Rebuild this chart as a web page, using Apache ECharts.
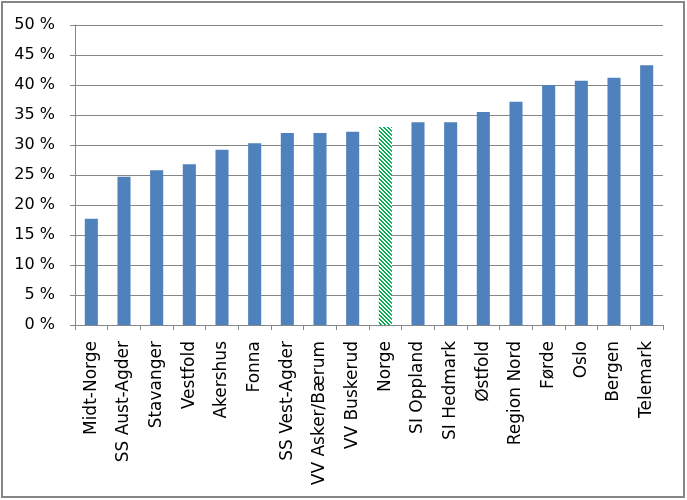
<!DOCTYPE html>
<html>
<head>
<meta charset="utf-8">
<script src="https://cdn.jsdelivr.net/npm/echarts@6/dist/echarts.min.js"></script>
<style>
html,body{margin:0;padding:0;background:#fff;}
#chart{width:687px;height:500px;}
</style>
</head>
<body>
<div id="chart"></div>
<script>
const categories = ["Midt-Norge","SS Aust-Agder","Stavanger","Vestfold","Akershus","Fonna","SS Vest-Agder","VV Asker/Bærum","VV Buskerud","Norge","SI Oppland","SI Hedmark","Østfold","Region Nord","Førde","Oslo","Bergen","Telemark"];
const values = [17.7, 24.7, 25.8, 26.8, 29.2, 30.3, 32.0, 32.0, 32.2, 33.0, 33.8, 33.8, 35.5, 37.2, 40.0, 40.7, 41.2, 43.3];
const highlightCategory = "Norge";

function makeHatch() {
  const c = document.createElement('canvas');
  c.width = 4; c.height = 4;
  const ctx = c.getContext('2d');
  ctx.fillStyle = '#ffffff';
  ctx.fillRect(0, 0, 4, 4);
  ctx.fillStyle = '#00B050';
  for (let y = 0; y < 4; y++) {
    for (let x = 0; x < 4; x++) {
      const d = ((x - y) % 4 + 4) % 4;
      if (d === 0 || d === 1) ctx.fillRect(x, y, 1, 1);
    }
  }
  return c;
}
const hatch = makeHatch();

const chart = echarts.init(document.getElementById('chart'), null, {renderer: 'canvas'});
const font = '"DejaVu Sans", "Open Sans", sans-serif';
chart.setOption({
  animation: false,
  backgroundColor: '#ffffff',
  grid: {left: 75, right: 24, top: 25, bottom: 175, containLabel: false},
  graphic: [{
    type: 'rect',
    shape: {x: 2, y: 2, width: 682, height: 495},
    style: {fill: 'none', stroke: '#868686', lineWidth: 2},
    silent: true
  }],
  xAxis: {
    type: 'category',
    data: categories,
    axisLine: {show: true, lineStyle: {color: '#868686', width: 1}},
    axisTick: {show: true, interval: 0, length: 5, lineStyle: {color: '#868686'}},
    axisLabel: {interval: 0, rotate: 90, color: '#000', fontSize: 17, fontFamily: font, margin: 16}
  },
  yAxis: {
    type: 'value',
    min: 0, max: 50, interval: 5,
    axisLine: {show: true, lineStyle: {color: '#868686', width: 1}},
    axisTick: {show: true, length: 5, lineStyle: {color: '#868686'}},
    splitLine: {show: true, lineStyle: {color: '#868686', width: 1}},
    axisLabel: {color: '#000', fontSize: 16, fontFamily: font, margin: 20, formatter: v => v + ' %'}
  },
  series: [{
    type: 'bar',
    barWidth: '40%',
    data: values.map((v, i) => categories[i] === highlightCategory
      ? {value: v, itemStyle: {color: {image: hatch, repeat: 'repeat'}}}
      : {value: v}),
    itemStyle: {color: '#4F81BD'}
  }]
});
</script>
</body>
</html>
